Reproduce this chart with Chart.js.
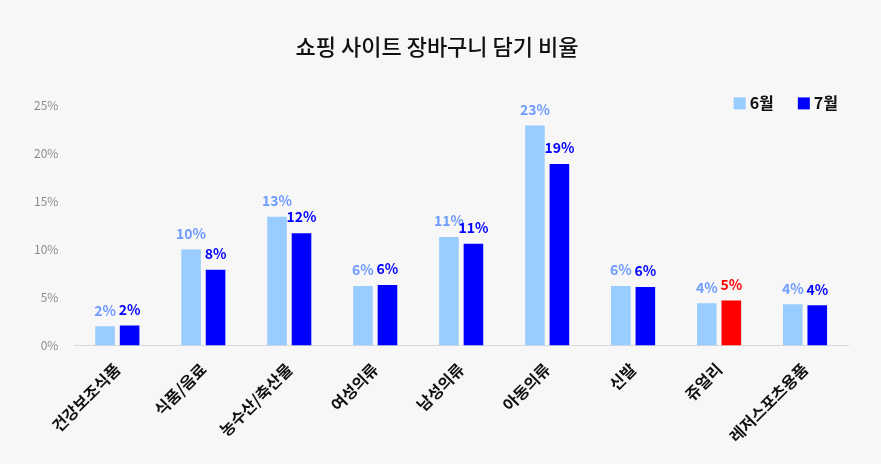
<!DOCTYPE html>
<html>
<head>
<meta charset="utf-8">
<script src="https://cdn.jsdelivr.net/npm/chart.js@4.4.1/dist/chart.umd.min.js"></script>
<style>
  html, body { margin: 0; padding: 0; background: #f7f7f7; }
  #wrap { width: 881px; height: 464px; }
</style>
</head>
<body>
<div id="wrap"><canvas id="chart"></canvas></div>
<script>
const categories = ['건강보조식품', '식품/음료', '농수산/축산물', '여성의류', '남성의류', '아동의류', '신발', '쥬얼리', '레저스포츠용품'];
const june = [2.0, 10.0, 13.4, 6.2, 11.3, 22.9, 6.2, 4.4, 4.3];
const july = [2.1, 7.9, 11.7, 6.3, 10.6, 18.9, 6.1, 4.7, 4.2];
const yTicks = [0, 5, 10, 15, 20, 25];

const FONT = '"Noto Sans CJK KR", "Noto Sans", sans-serif';
const JUNE_COLOR = '#99ccff';
const JULY_COLOR = '#0000ff';
const HIGHLIGHT = '#ff0000';

// value labels above each bar
const barLabels = {
  id: 'barLabels',
  afterDatasetsDraw(chart) {
    const ctx = chart.ctx;
    ctx.save();
    ctx.font = 'bold 14px ' + FONT;
    ctx.textAlign = 'center';
    ctx.textBaseline = 'bottom';
    chart.data.datasets.forEach((ds, i) => {
      chart.getDatasetMeta(i).data.forEach((bar, j) => {
        ctx.fillStyle = i === 0 ? '#6e9bff' : (j === 7 ? HIGHLIGHT : JULY_COLOR);
        ctx.fillText(Math.round(ds.data[j]) + '%', bar.x, bar.y - 9);
      });
    });
    ctx.restore();
  }
};

// legend drawn inside the top-right corner of the plot
const cornerLegend = {
  id: 'cornerLegend',
  afterDraw(chart) {
    const ctx = chart.ctx;
    const area = chart.chartArea;
    const items = [[chart.data.datasets[0].label, JUNE_COLOR], [chart.data.datasets[1].label, JULY_COLOR]];
    ctx.save();
    ctx.font = 'bold 16px ' + FONT;
    ctx.textBaseline = 'middle';
    let x = area.right - 10;
    const y = area.top - 2;
    for (let k = items.length - 1; k >= 0; k--) {
      const [text, color] = items[k];
      const w = ctx.measureText(text).width;
      x -= w;
      ctx.fillStyle = '#111';
      ctx.fillText(text, x, y);
      x -= 16;
      ctx.fillStyle = color;
      ctx.fillRect(x, y - 6, 12, 12);
      x -= 24;
    }
    ctx.restore();
  }
};

new Chart(document.getElementById('chart'), {
  type: 'bar',
  data: {
    labels: categories,
    datasets: [
      { label: '6월', data: june, backgroundColor: JUNE_COLOR },
      { label: '7월', data: july, backgroundColor: c => c.dataIndex === 7 ? HIGHLIGHT : JULY_COLOR }
    ]
  },
  options: {
    responsive: true,
    maintainAspectRatio: false,
    animation: false,
    categoryPercentage: 0.57,
    barPercentage: 0.8,
    layout: { padding: { top: 33, left: 26, right: 33, bottom: 12 } },
    plugins: {
      title: {
        display: true,
        text: '쇼핑 사이트 장바구니 담기 비율',
        color: '#111',
        font: { family: FONT, size: 22, weight: '500' },
        padding: { top: 0, bottom: 46 }
      },
      legend: { display: false },
      tooltip: { enabled: false }
    },
    scales: {
      x: {
        grid: { display: false },
        border: { color: '#d9d9d9' },
        ticks: {
          maxRotation: 45, minRotation: 45,
          padding: 6,
          color: '#111',
          font: { family: FONT, size: 16, weight: 'bold' }
        }
      },
      y: {
        min: 0, max: 25,
        afterBuildTicks: axis => { axis.ticks = yTicks.map(v => ({ value: v })); },
        grid: { display: false },
        border: { display: false },
        ticks: {
          padding: 8,
          color: '#8c8c8c',
          font: { family: FONT, size: 12 },
          callback: v => v + '%'
        }
      }
    }
  },
  plugins: [barLabels, cornerLegend]
});
</script>
</body>
</html>
